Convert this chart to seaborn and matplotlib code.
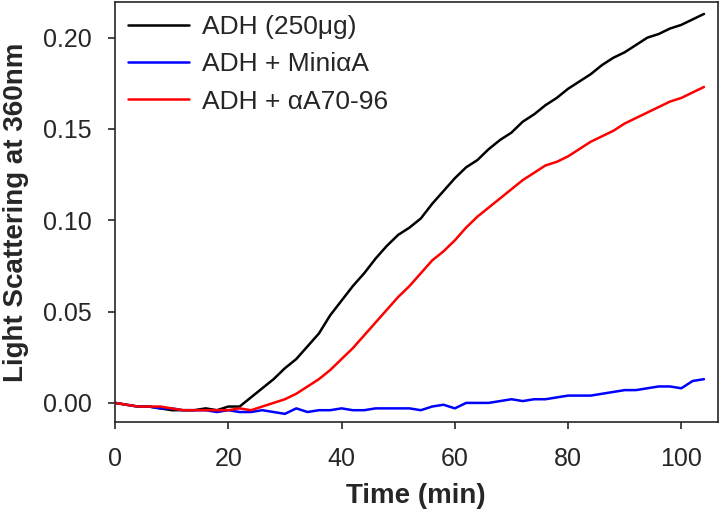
import numpy as np
import pandas as pd
import matplotlib
matplotlib.use("Agg")
import matplotlib.pyplot as plt
import seaborn as sns

# time in minutes
time = list(range(0, 106, 2))

adh = [0.000, -0.001, -0.002, -0.002, -0.003, -0.004, -0.004, -0.004, -0.003, -0.004,
       -0.002, -0.002, 0.003, 0.008, 0.013, 0.019, 0.024, 0.031, 0.038, 0.048,
       0.056, 0.064, 0.071, 0.079, 0.086, 0.092, 0.096, 0.101, 0.109, 0.116,
       0.123, 0.129, 0.133, 0.139, 0.144, 0.148, 0.154, 0.158, 0.163, 0.167,
       0.172, 0.176, 0.180, 0.185, 0.189, 0.192, 0.196, 0.200, 0.202, 0.205,
       0.207, 0.210, 0.213]

adh_mini = [0.000, -0.001, -0.002, -0.002, -0.003, -0.003, -0.004, -0.004, -0.004, -0.005,
            -0.004, -0.005, -0.005, -0.004, -0.005, -0.006, -0.003, -0.005, -0.004, -0.004,
            -0.003, -0.004, -0.004, -0.003, -0.003, -0.003, -0.003, -0.004, -0.002, -0.001,
            -0.003, 0.000, 0.000, 0.000, 0.001, 0.002, 0.001, 0.002, 0.002, 0.003,
            0.004, 0.004, 0.004, 0.005, 0.006, 0.007, 0.007, 0.008, 0.009, 0.009,
            0.008, 0.012, 0.013]

adh_a70 = [0.000, -0.001, -0.002, -0.002, -0.002, -0.003, -0.004, -0.004, -0.004, -0.004,
           -0.004, -0.003, -0.004, -0.002, 0.000, 0.002, 0.005, 0.009, 0.013, 0.018,
           0.024, 0.030, 0.037, 0.044, 0.051, 0.058, 0.064, 0.071, 0.078, 0.083,
           0.089, 0.096, 0.102, 0.107, 0.112, 0.117, 0.122, 0.126, 0.130, 0.132,
           0.135, 0.139, 0.143, 0.146, 0.149, 0.153, 0.156, 0.159, 0.162, 0.165,
           0.167, 0.170, 0.173]

labels = ["ADH (250\u03bcg)", "ADH + Mini\u03b1A", "ADH + \u03b1A70-96"]
colors = ["black", "#0000ff", "#ff0000"]

df = pd.concat([
    pd.DataFrame({"time": time, "value": adh, "sample": labels[0]}),
    pd.DataFrame({"time": time, "value": adh_mini, "sample": labels[1]}),
    pd.DataFrame({"time": time, "value": adh_a70, "sample": labels[2]}),
])

sns.set_style("ticks")
plt.rcParams["font.family"] = ["Liberation Sans", "DejaVu Sans"]

fig = plt.figure(figsize=(7.19, 5.12), dpi=100)
ax = fig.add_axes([0.16, 0.176, 0.838, 0.82])

sns.lineplot(data=df, x="time", y="value", hue="sample", palette=colors,
             linewidth=1.8, ax=ax)

ax.set_xlim(0, 106.4)
ax.set_ylim(-0.0104, 0.2195)
ax.set_xticks([0, 20, 40, 60, 80, 100])
ax.set_yticks([0.0, 0.05, 0.10, 0.15, 0.20])
ax.set_yticklabels(["0.00", "0.05", "0.10", "0.15", "0.20"])
ax.tick_params(labelsize=18, direction="out", length=5, width=1.2, pad=12)
ax.tick_params(axis="x", pad=13)
ax.set_xlabel("Time (min)", fontsize=20, fontweight="bold", labelpad=9)
ax.set_ylabel("Light Scattering at 360nm", fontsize=20, fontweight="bold", labelpad=10)
for s in ax.spines.values():
    s.set_linewidth(1.2)

ax.legend(loc="upper left", frameon=False, fontsize=19, handlelength=2.3,
          handletextpad=0.5, labelspacing=0.5, borderaxespad=0.2,
          borderpad=0.3, title=None)

fig.savefig("out.png", dpi=100)
